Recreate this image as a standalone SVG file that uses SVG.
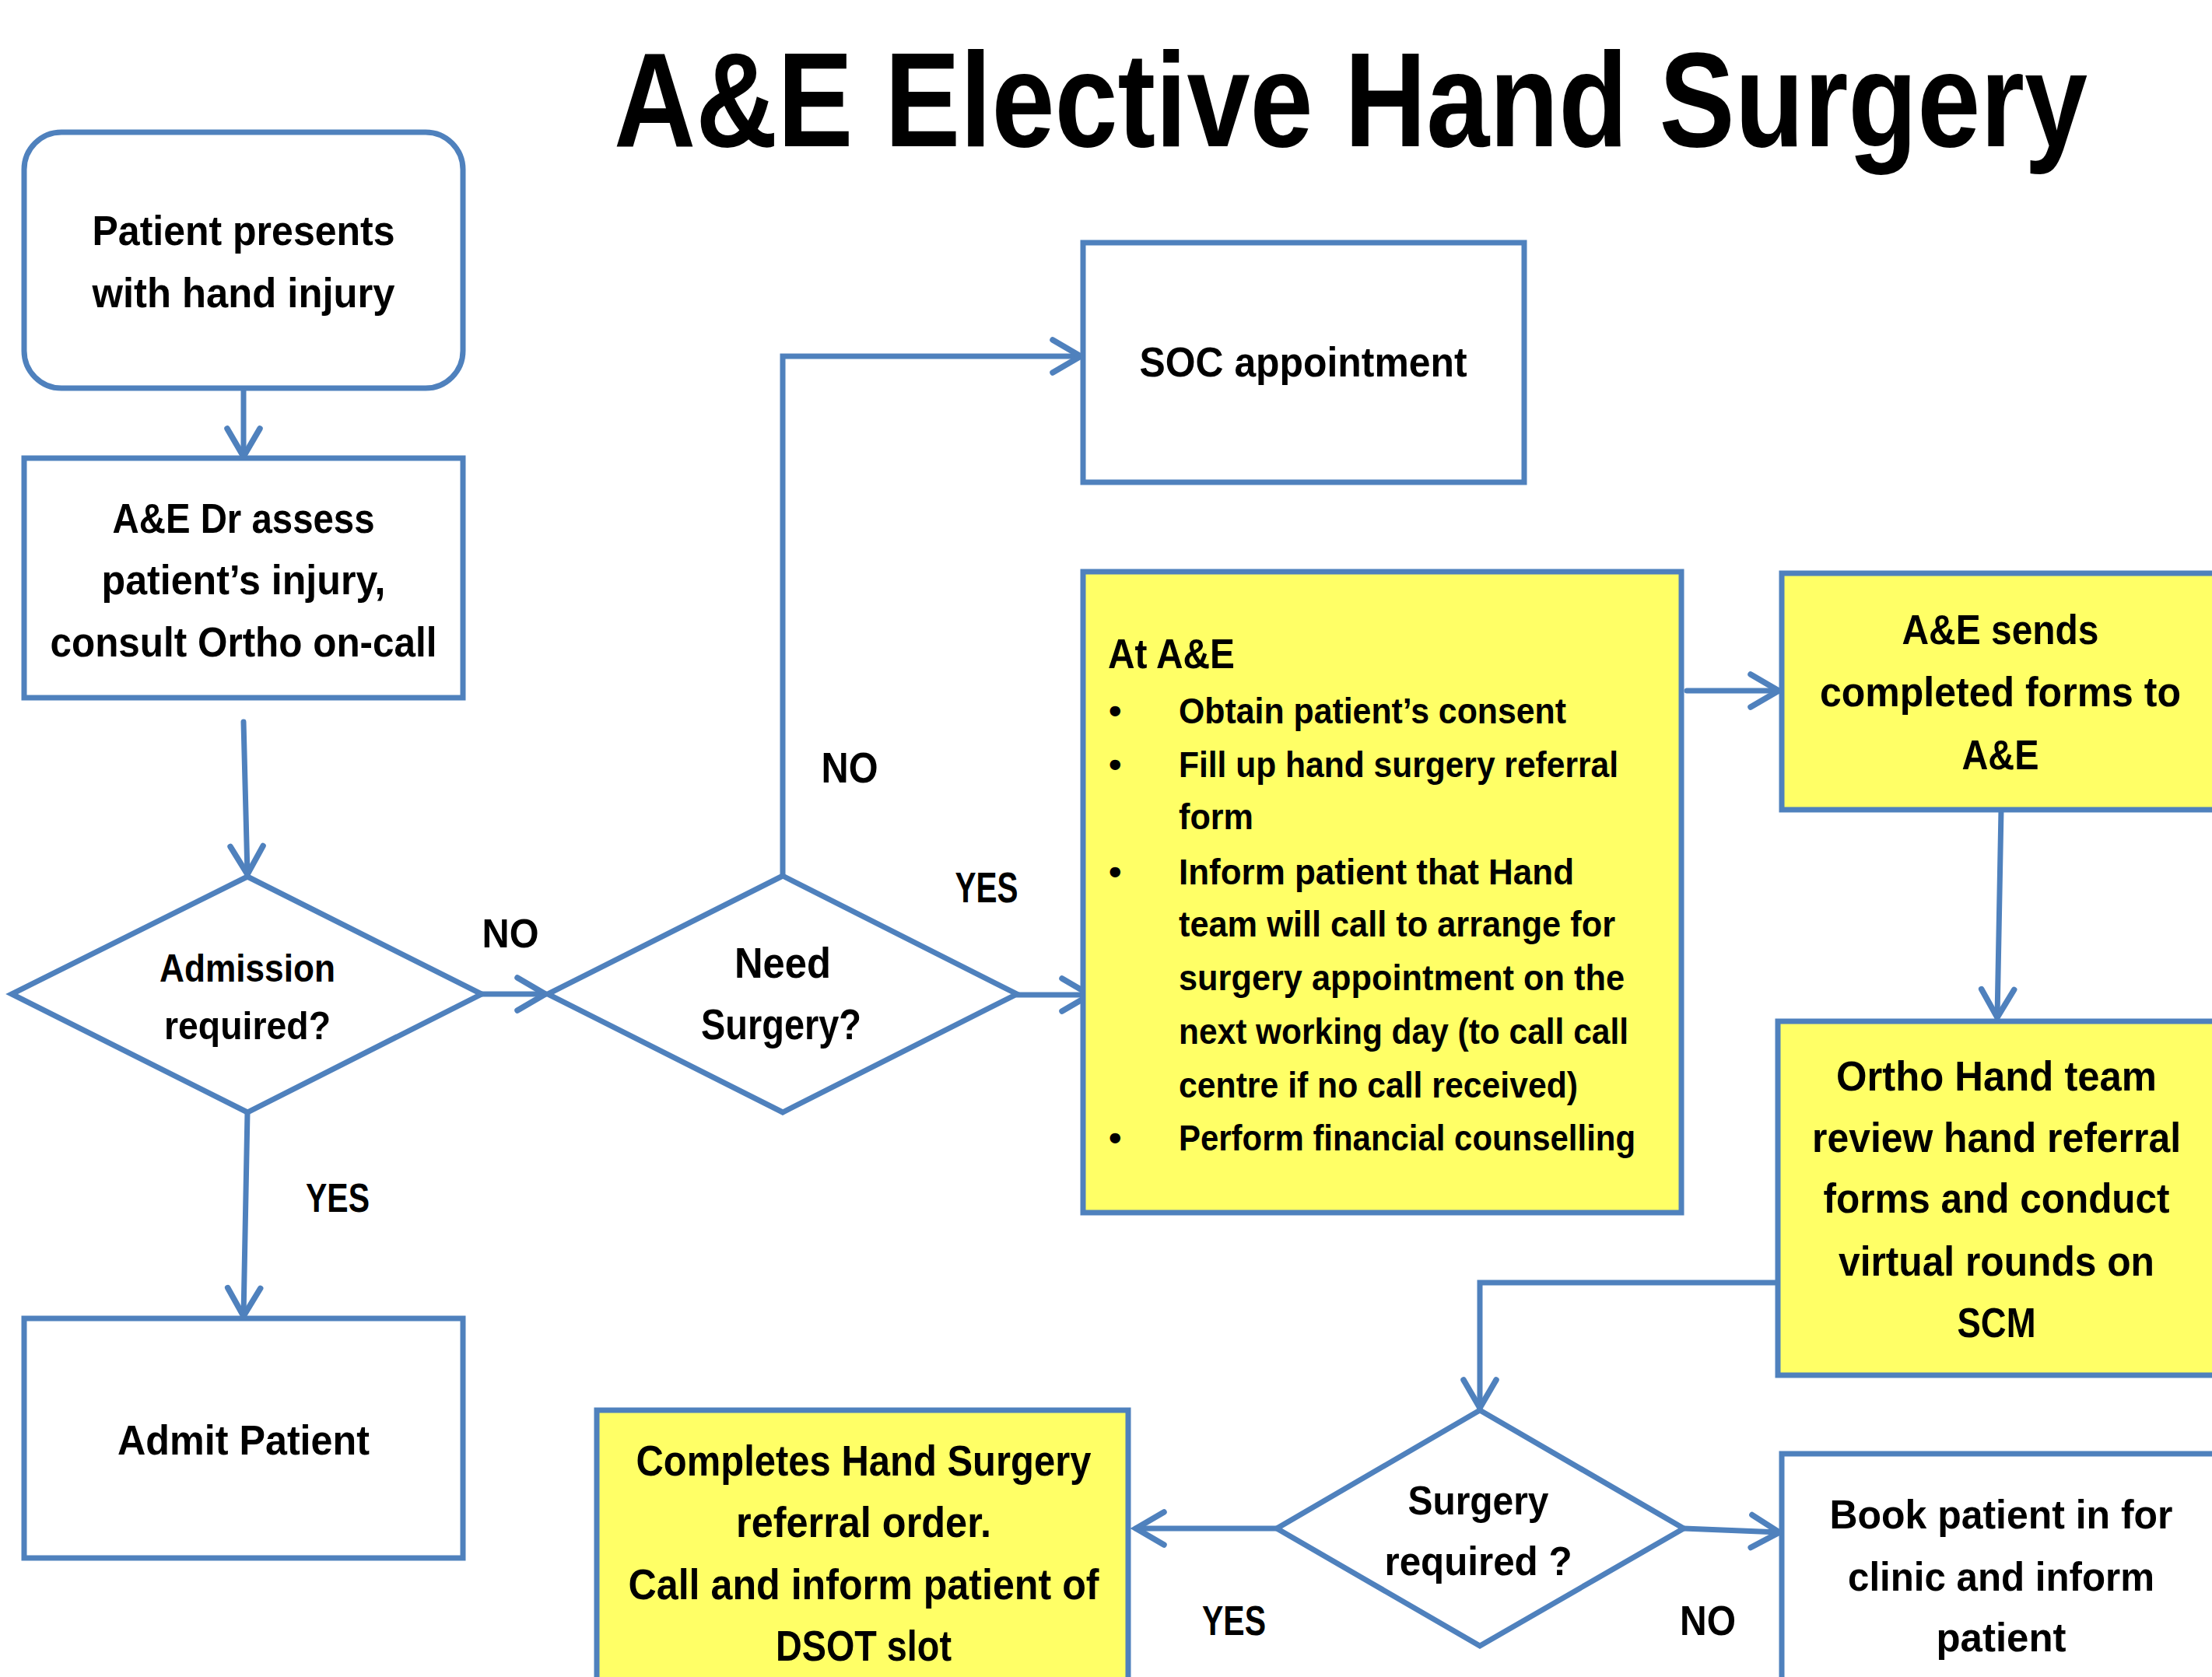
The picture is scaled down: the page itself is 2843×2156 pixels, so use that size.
<svg xmlns="http://www.w3.org/2000/svg" width="2843" height="2156" viewBox="0 0 2843 2156">
<style>
.box{fill:#FFFFFF;stroke:#4F81BD;stroke-width:7}
.ybox{fill:#FFFF66;stroke:#4F81BD;stroke-width:7}
.t{font-family:"Liberation Sans",Arial,sans-serif;font-weight:bold;fill:#000000}
.m{text-anchor:middle}
.c{stroke:#4F81BD;stroke-width:7;fill:none;stroke-linecap:round;stroke-linejoin:miter}
</style>
<defs>
<marker id="arr" markerUnits="userSpaceOnUse" viewBox="-45 -30 50 60" markerWidth="50" markerHeight="60" refX="0" refY="0" orient="auto" overflow="visible">
<path d="M-36,-21 L0,0 L-36,21" fill="none" stroke="#4F81BD" stroke-width="7.5" stroke-linecap="round" stroke-linejoin="miter"/>
</marker>
</defs>
<rect width="2843" height="2156" fill="#FFFFFF"/>
<g id="title" transform="translate(1736,188) scale(1,1.15)"><text class="t m" x="0" y="0" font-size="150" textLength="1894" lengthAdjust="spacingAndGlyphs">A&amp;E Elective Hand Surgery</text></g>

<g id="connectors">
<path class="c" d="M313,499 L313,587" marker-end="url(#arr)"/>
<path class="c" d="M313,928 L318,1124" marker-end="url(#arr)"/>
<path class="c" d="M318,1430 L313,1692" marker-end="url(#arr)"/>
<path class="c" d="M619,1278 L701,1278" marker-end="url(#arr)"/>
<path class="c" d="M1006,1126 L1006,458 L1389,458" marker-end="url(#arr)"/>
<path class="c" d="M1307,1279 L1401,1279" marker-end="url(#arr)"/>
<path class="c" d="M2168,888 L2286,888" marker-end="url(#arr)"/>
<path class="c" d="M2572,1041 L2567,1308" marker-end="url(#arr)"/>
<path class="c" d="M2285,1649 L1902,1649 L1902,1810" marker-end="url(#arr)"/>
<path class="c" d="M1641,1965 L1460,1965" stroke-width="9" marker-end="url(#arr)"/>
<path class="c" d="M2164,1965 L2287,1970" stroke-width="8" marker-end="url(#arr)"/>
<text class="t m" x="434" y="1558" font-size="52" textLength="82" lengthAdjust="spacingAndGlyphs">YES</text>
<text class="t m" x="656" y="1218" font-size="52" textLength="73" lengthAdjust="spacingAndGlyphs">NO</text>
<text class="t m" x="1092" y="1006" font-size="55" textLength="73" lengthAdjust="spacingAndGlyphs">NO</text>
<text class="t m" x="1268" y="1160" font-size="55" textLength="81" lengthAdjust="spacingAndGlyphs">YES</text>
<text class="t m" x="1586" y="2102" font-size="54" textLength="82" lengthAdjust="spacingAndGlyphs">YES</text>
<text class="t m" x="2195" y="2102" font-size="54" textLength="72" lengthAdjust="spacingAndGlyphs">NO</text>
</g>

<g id="patient">
<rect class="box" x="31" y="170" width="564" height="329" rx="48"/>
<text class="t m" x="313" y="315" font-size="54" textLength="389" lengthAdjust="spacingAndGlyphs">Patient presents</text>
<text class="t m" x="313" y="395" font-size="54" textLength="389" lengthAdjust="spacingAndGlyphs">with hand injury</text>
</g>

<g id="assess">
<rect class="box" x="31" y="589" width="564" height="308"/>
<text class="t m" x="313" y="685" font-size="54" textLength="337" lengthAdjust="spacingAndGlyphs">A&amp;E Dr assess</text>
<text class="t m" x="313" y="764" font-size="54" textLength="365" lengthAdjust="spacingAndGlyphs">patient’s injury,</text>
<text class="t m" x="313" y="844" font-size="54" textLength="497" lengthAdjust="spacingAndGlyphs">consult Ortho on-call</text>
</g>

<g id="admission">
<polygon class="box" points="318,1127 619,1278 318,1430 15,1278"/>
<text class="t m" x="318" y="1262" font-size="50" textLength="226" lengthAdjust="spacingAndGlyphs">Admission</text>
<text class="t m" x="318" y="1336" font-size="50" textLength="214" lengthAdjust="spacingAndGlyphs">required?</text>
</g>

<g id="admit">
<rect class="box" x="31" y="1695" width="564" height="308"/>
<text class="t m" x="313" y="1870" font-size="54" textLength="324" lengthAdjust="spacingAndGlyphs">Admit Patient</text>
</g>

<g id="need">
<polygon class="box" points="1006,1126 1307,1278 1006,1430 704,1278"/>
<text class="t m" x="1006" y="1257" font-size="55" textLength="124" lengthAdjust="spacingAndGlyphs">Need</text>
<text class="t m" x="1004" y="1336" font-size="55" textLength="206" lengthAdjust="spacingAndGlyphs">Surgery?</text>
</g>

<g id="soc">
<rect class="box" x="1392" y="312" width="567" height="308"/>
<text class="t m" x="1675" y="484" font-size="54" textLength="421" lengthAdjust="spacingAndGlyphs">SOC appointment</text>
</g>

<g id="atae">
<rect class="ybox" x="1392" y="735" width="769" height="824"/>
<text class="t" x="1424" y="859" font-size="54" textLength="163" lengthAdjust="spacingAndGlyphs">At A&amp;E</text>
<g class="t" font-size="47">
<text x="1425" y="930">•</text>
<text x="1515" y="930" textLength="498" lengthAdjust="spacingAndGlyphs">Obtain patient’s consent</text>
<text x="1425" y="999">•</text>
<text x="1515" y="999" textLength="565" lengthAdjust="spacingAndGlyphs">Fill up hand surgery referral</text>
<text x="1515" y="1066" textLength="96" lengthAdjust="spacingAndGlyphs">form</text>
<text x="1425" y="1137">•</text>
<text x="1515" y="1137" textLength="508" lengthAdjust="spacingAndGlyphs">Inform patient that Hand</text>
<text x="1515" y="1204" textLength="561" lengthAdjust="spacingAndGlyphs">team will call to arrange for</text>
<text x="1515" y="1273" textLength="573" lengthAdjust="spacingAndGlyphs">surgery appointment on the</text>
<text x="1515" y="1342" textLength="578" lengthAdjust="spacingAndGlyphs">next working day (to call call</text>
<text x="1515" y="1411" textLength="513" lengthAdjust="spacingAndGlyphs">centre if no call received)</text>
<text x="1425" y="1479">•</text>
<text x="1515" y="1479" textLength="587" lengthAdjust="spacingAndGlyphs">Perform financial counselling</text>
</g>
</g>

<g id="sends">
<rect class="ybox" x="2290" y="737" width="562" height="304"/>
<text class="t m" x="2571" y="828" font-size="54" textLength="253" lengthAdjust="spacingAndGlyphs">A&amp;E sends</text>
<text class="t m" x="2571" y="908" font-size="54" textLength="464" lengthAdjust="spacingAndGlyphs">completed forms to</text>
<text class="t m" x="2571" y="989" font-size="54" textLength="99" lengthAdjust="spacingAndGlyphs">A&amp;E</text>
</g>

<g id="ortho">
<rect class="ybox" x="2285" y="1313" width="567" height="455"/>
<text class="t m" x="2566" y="1402" font-size="54" textLength="412" lengthAdjust="spacingAndGlyphs">Ortho Hand team</text>
<text class="t m" x="2566" y="1481" font-size="54" textLength="474" lengthAdjust="spacingAndGlyphs">review hand referral</text>
<text class="t m" x="2566" y="1559" font-size="54" textLength="445" lengthAdjust="spacingAndGlyphs">forms and conduct</text>
<text class="t m" x="2566" y="1640" font-size="54" textLength="406" lengthAdjust="spacingAndGlyphs">virtual rounds on</text>
<text class="t m" x="2566" y="1719" font-size="54" textLength="101" lengthAdjust="spacingAndGlyphs">SCM</text>
</g>

<g id="surgery">
<polygon class="box" points="1902,1813 2164,1965 1902,2116 1641,1965"/>
<text class="t m" x="1900" y="1947" font-size="52" textLength="181" lengthAdjust="spacingAndGlyphs">Surgery</text>
<text class="t m" x="1900" y="2025" font-size="52" textLength="241" lengthAdjust="spacingAndGlyphs">required ?</text>
</g>

<g id="completes">
<rect class="ybox" x="767" y="1813" width="683" height="380"/>
<text class="t m" x="1110" y="1897" font-size="56" textLength="585" lengthAdjust="spacingAndGlyphs">Completes Hand Surgery</text>
<text class="t m" x="1110" y="1976" font-size="56" textLength="328" lengthAdjust="spacingAndGlyphs">referral order.</text>
<text class="t m" x="1110" y="2056" font-size="56" textLength="605" lengthAdjust="spacingAndGlyphs">Call and inform patient of</text>
<text class="t m" x="1110" y="2135" font-size="56" textLength="226" lengthAdjust="spacingAndGlyphs">DSOT slot</text>
</g>

<g id="book">
<rect class="box" x="2290" y="1869" width="562" height="330"/>
<text class="t m" x="2572" y="1965" font-size="52" textLength="441" lengthAdjust="spacingAndGlyphs">Book patient in for</text>
<text class="t m" x="2572" y="2045" font-size="52" textLength="394" lengthAdjust="spacingAndGlyphs">clinic and inform</text>
<text class="t m" x="2572" y="2123" font-size="52" textLength="167" lengthAdjust="spacingAndGlyphs">patient</text>
</g>
</svg>
